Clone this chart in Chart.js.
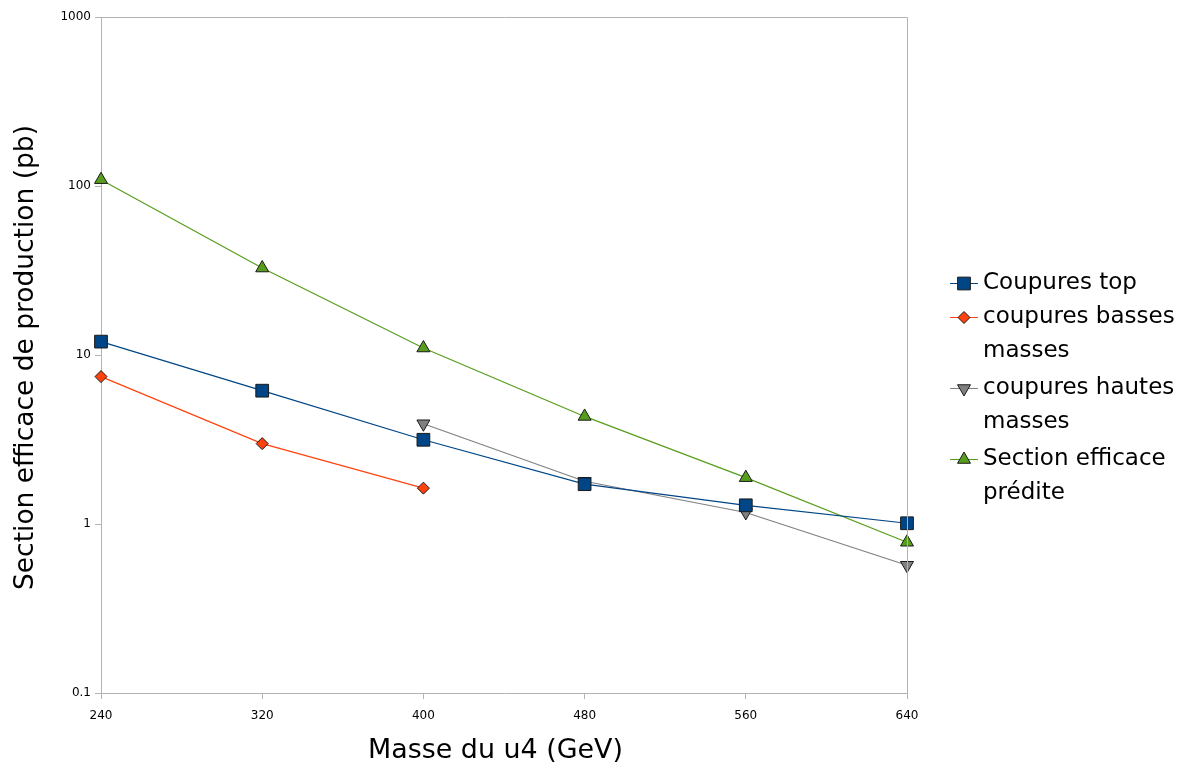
<!DOCTYPE html>
<html><head><meta charset="utf-8">
<script src="https://cdn.jsdelivr.net/npm/chart.js@4"></script>
<style>html,body{margin:0;padding:0;background:#fff;}#wrap{width:1181px;height:767px;position:relative;}</style>
</head><body><div id="wrap"><canvas id="c" width="1181" height="767"></canvas></div>
<script>
const masses = [240, 320, 400, 480, 560, 640];
const coupuresTop = [12.0, 6.15, 3.15, 1.72, 1.29, 1.01];
const coupuresBasses = [7.45, 2.99, 1.63, null, null, null];
const coupuresHautes = [null, null, 3.92, 1.79, 1.17, 0.57];
const sectionPredite = [109, 32.7, 11.0, 4.33, 1.88, 0.78];
const yTicks = [0.1, 1, 10, 100, 1000];
const seriesLabels = ['Coupures top', ['coupures basses', 'masses'], ['coupures hautes', 'masses'], ['Section efficace', 'prédite']];
const xTitle = 'Masse du u4 (GeV)';
const yTitle = 'Section efficace de production (pb)';

const FONT = 'DejaVu Sans';
function pts(arr){ return masses.map((m,i)=>({x:m, y:arr[i]})); }

function fitText(ctx, text, target, base){
  ctx.font = base + 'px "' + FONT + '"';
  const w = ctx.measureText(text).width;
  const size = base * target / w;
  ctx.font = size.toFixed(2) + 'px "' + FONT + '"';
}

const frame = {
  id:'frame',
  afterDatasetsDraw(chart){
    const {ctx, chartArea:a} = chart;
    ctx.save();
    ctx.strokeStyle='#b3b3b3'; ctx.lineWidth=1;
    ctx.beginPath();
    ctx.moveTo(a.left, a.top+0.5); ctx.lineTo(a.right+0.5, a.top+0.5);
    ctx.lineTo(a.right+0.5, a.bottom);
    ctx.stroke();
    ctx.restore();
  },
  afterDraw(chart){
    const {ctx} = chart;
    ctx.save();
    // axis titles
    ctx.fillStyle='#000';
    ctx.textAlign='center'; ctx.textBaseline='middle';
    fitText(ctx, xTitle, 255, 26);
    ctx.fillText(xTitle, 495.5, 751);
    ctx.save();
    ctx.translate(26, 357.5); ctx.rotate(-Math.PI/2);
    fitText(ctx, yTitle, 465, 26);
    ctx.fillText(yTitle, 0, 0);
    ctx.restore();
    // legend
    ctx.textAlign='left';
    const x0 = 950, xT = 983;
    let y = 283;
    fitText(ctx, 'Coupures top', 154, 23);
    chart.data.datasets.forEach((ds, i)=>{
      const lines = Array.isArray(seriesLabels[i]) ? seriesLabels[i] : [seriesLabels[i]];
      ctx.strokeStyle = ds.borderColor; ctx.lineWidth=1;
      ctx.beginPath(); ctx.moveTo(x0, y+0.5); ctx.lineTo(x0+28, y+0.5); ctx.stroke();
      ctx.fillStyle = ds.pointBackgroundColor; ctx.strokeStyle='#1a1a1a'; ctx.lineWidth=1;
      Chart.helpers.drawPoint(ctx, {pointStyle: ds.pointStyle, rotation: ds.pointRotation||0, radius: ds.pointRadius, borderWidth:1}, x0+14, y+0.5);
      ctx.fillStyle='#000';
      lines.forEach((t,j)=>{ ctx.fillText(t, xT, y + j*34); });
      y += 34*lines.length + (i===0?0:3);
    });
    ctx.restore();
  }
};

new Chart(document.getElementById('c'), {
  type:'line',
  data:{
    datasets:[
      {label:'Coupures top', data:pts(coupuresTop), borderColor:'#004586', backgroundColor:'#004586', pointBackgroundColor:'#004586', pointBorderColor:'#1a1a1a', pointBorderWidth:1, pointStyle:'rect', pointRadius:9, borderWidth:1.2, clip:false},
      {label:'coupures basses masses', data:pts(coupuresBasses), borderColor:'#ff420e', backgroundColor:'#ff420e', pointBackgroundColor:'#ff420e', pointBorderColor:'#1a1a1a', pointBorderWidth:1, pointStyle:'rectRot', pointRadius:6, borderWidth:1.2, clip:false},
      {label:'coupures hautes masses', data:pts(coupuresHautes), borderColor:'#808080', backgroundColor:'#808080', pointBackgroundColor:'#808080', pointBorderColor:'#1a1a1a', pointBorderWidth:1, pointStyle:'triangle', pointRotation:180, pointRadius:7.5, borderWidth:1.2, clip:false},
      {label:'Section efficace prédite', data:pts(sectionPredite), borderColor:'#579d1c', backgroundColor:'#579d1c', pointBackgroundColor:'#579d1c', pointBorderColor:'#1a1a1a', pointBorderWidth:1, pointStyle:'triangle', pointRadius:7.5, borderWidth:1.2, clip:false}
    ]
  },
  options:{
    responsive:false, animation:false, spanGaps:false,
    layout:{padding:{top:17, right:274, left:0, bottom:0}},
    plugins:{legend:{display:false}, tooltip:{enabled:false}},
    elements:{line:{tension:0}},
    scales:{
      x:{type:'linear', min:240, max:640,
        ticks:{stepSize:80, color:'#000', font:{family:FONT, size:12}, padding:10, maxRotation:0},
        grid:{drawOnChartArea:false, drawTicks:true, tickLength:6, color:'#b3b3b3'},
        border:{display:true, color:'#b3b3b3'},
        title:{display:false},
        afterFit(s){ s.height = 74; }
      },
      y:{type:'logarithmic', min:0.1, max:1000,
        afterBuildTicks(s){ s.ticks = yTicks.map(v=>({value:v})); },
        ticks:{color:'#000', font:{family:FONT, size:12}, padding:4, callback:(v)=>String(v)},
        grid:{drawOnChartArea:false, drawTicks:true, tickLength:6, color:'#b3b3b3'},
        border:{display:true, color:'#b3b3b3'},
        title:{display:false},
        afterFit(s){ s.width = 101; }
      }
    }
  },
  plugins:[frame]
});
</script></body></html>
